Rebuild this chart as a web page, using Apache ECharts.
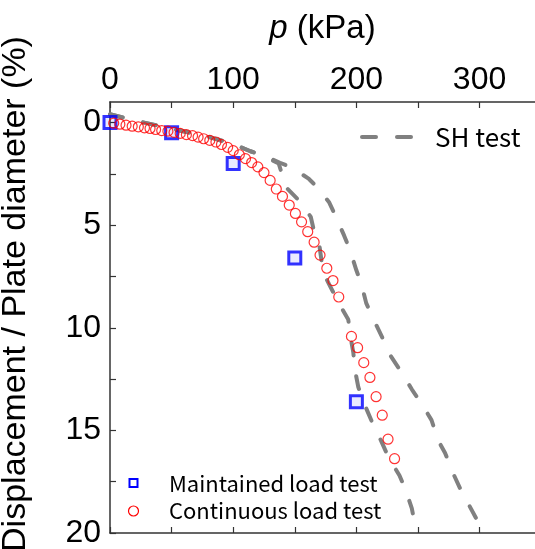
<!DOCTYPE html>
<html>
<head>
<meta charset="utf-8">
<script src="https://cdn.jsdelivr.net/npm/echarts@6/dist/echarts.min.js"></script>
<style>
  html, body { margin: 0; padding: 0; background: #fff; }
  #chart { width: 535px; height: 549px; }
</style>
</head>
<body>
<div id="chart"></div>
<script>
// Pressure p (kPa) and displacement / plate diameter (%) for each test.
const maintainedP = [0, 50, 100, 150, 200];
const maintainedD = [0, 0.5, 2.0, 6.6, 13.6];

const continuousP = [3, 8, 13, 18, 23, 28, 32.5, 37, 42, 47, 52, 57, 62, 67, 71.5, 76, 81, 86, 90.5, 95.5,
  100, 105, 110, 115, 120, 125, 130, 135, 140, 145.5, 150.5, 155.5, 160.5, 165.7, 170.5, 176, 181, 185.7,
  196, 201, 206, 211, 216, 221, 225.7, 231];
const continuousD = [0.03, 0.08, 0.13, 0.18, 0.21, 0.26, 0.29, 0.34, 0.39, 0.42, 0.48, 0.53, 0.59, 0.64, 0.71, 0.79, 0.87, 0.95, 1.07, 1.21,
  1.37, 1.57, 1.76, 1.95, 2.16, 2.44, 2.82, 3.24, 3.6, 4.02, 4.43, 4.84, 5.32, 5.83, 6.46, 7.1, 7.7, 8.5,
  10.42, 10.97, 11.7, 12.42, 13.36, 14.26, 15.43, 16.38];

// SH test, lower branch
const shLowerP = [0, 20, 50, 80, 100, 114, 124, 137, 138.5, 142, 154, 163, 166.4, 170, 173, 178, 186.7, 193.4,
  196, 197.5, 199, 201.6, 207.8, 212.4, 220, 226, 235, 240, 245, 247.6];
const shLowerD = [-0.4, -0.1, 0.3, 0.7, 1.05, 1.4, 1.6, 2.0, 2.3, 3.1, 3.84, 4.6, 5.5, 6.0, 7.3, 7.9, 8.9, 9.6,
  10.7, 11.2, 12.1, 12.9, 13.9, 14.55, 15.5, 16.3, 17.2, 17.9, 18.8, 19.6];

// SH test, upper branch
const shUpperP = [0, 20, 50, 80, 100, 114, 124, 138, 148, 161.5, 169, 178, 183.4, 190, 195, 200, 204, 208, 214,
  222, 227, 237, 245, 254, 261, 266.5, 272, 278.6, 284, 292, 300];
const shUpperD = [-0.4, -0.1, 0.3, 0.7, 1.05, 1.4, 1.6, 1.96, 2.2, 2.75, 3.2, 3.9, 4.6, 5.5, 6.25, 7.2, 7.85, 8.8, 9.6,
  10.6, 11.3, 12.2, 13, 13.8, 14.5, 15.5, 16.1, 17.1, 17.8, 18.7, 19.6];

const xLabelValues = [0, 100, 200, 300];
const xTickValues = [0, 50, 100, 150, 200, 250, 300];
const yLabelValues = [0, 5, 10, 15, 20];
const yTickValues = [0, 2.5, 5, 7.5, 10, 12.5, 15, 17.5, 20];

const pairs = (xs, ys) => xs.map((x, i) => [x, ys[i]]);

const FONT = '"Liberation Sans", Arial, sans-serif';
const LEGEND_FONT = '"Noto Sans CJK JP", "Liberation Sans", sans-serif';
const AXIS_COLOR = '#333';
const GRAY = '#808080';

const axisLineStyle = { color: AXIS_COLOR, width: 1.5 };

const chart = echarts.init(document.getElementById('chart'), null, { renderer: 'canvas' });

chart.setOption({
  animation: false,
  backgroundColor: '#fff',
  grid: { left: 110, top: 102, right: 0, bottom: 13, containLabel: false },
  xAxis: [
    {
      type: 'value', position: 'top', min: 0, max: 345,
      name: '{i|p} (kPa)', nameLocation: 'middle', nameGap: 57,
      nameTextStyle: {
        fontSize: 33, fontFamily: FONT, color: '#000',
        rich: { i: { fontStyle: 'italic', fontSize: 33, fontFamily: FONT, color: '#000' } }
      },
      axisLine: { show: true, onZero: false, lineStyle: axisLineStyle },
      axisTick: { show: true, inside: true, length: 6, customValues: xTickValues, lineStyle: { color: AXIS_COLOR, width: 1.2 } },
      axisLabel: { customValues: xLabelValues, fontSize: 32, fontFamily: FONT, color: '#000', margin: 6 },
      splitLine: { show: false }
    },
    {
      type: 'value', position: 'bottom', min: 0, max: 345,
      axisLine: { show: true, onZero: false, lineStyle: axisLineStyle },
      axisTick: { show: true, inside: true, length: 6, customValues: xTickValues, lineStyle: { color: AXIS_COLOR, width: 1.2 } },
      axisLabel: { show: false },
      splitLine: { show: false }
    }
  ],
  yAxis: {
    type: 'value', inverse: true, min: -1, max: 20,
    axisLine: { show: true, onZero: false, lineStyle: axisLineStyle },
    axisTick: { show: true, inside: true, length: 6, customValues: yTickValues, lineStyle: { color: AXIS_COLOR, width: 1.2 } },
    axisLabel: { customValues: yLabelValues, fontSize: 32, fontFamily: FONT, color: '#000', margin: 9 },
    splitLine: { show: false }
  },
  graphic: [
    {
      type: 'text', x: 16, y: 294, rotation: Math.PI / 2,
      style: {
        text: 'Displacement / Plate diameter (%)', font: '34px ' + FONT, fill: '#000',
        align: 'center', verticalAlign: 'middle'
      }
    },
    { type: 'line', shape: { x1: 362, y1: 137, x2: 376, y2: 137 }, style: { stroke: GRAY, lineWidth: 4, lineCap: 'round' } },
    { type: 'line', shape: { x1: 397, y1: 137, x2: 411, y2: 137 }, style: { stroke: GRAY, lineWidth: 4, lineCap: 'round' } },
    { type: 'text', x: 435, y: 137, style: { text: 'SH test', font: '26px ' + LEGEND_FONT, fill: '#000', verticalAlign: 'middle' } },
    { type: 'rect', shape: { x: 129.5, y: 479, width: 8, height: 8 }, style: { stroke: '#0000ff', lineWidth: 2, fill: '#fff' } },
    { type: 'text', x: 169, y: 483.5, style: { text: 'Maintained load test', font: '22px ' + LEGEND_FONT, fill: '#000', verticalAlign: 'middle' } },
    { type: 'circle', shape: { cx: 133.5, cy: 511, r: 5 }, style: { stroke: '#ff0000', lineWidth: 1.2, fill: 'none' } },
    { type: 'text', x: 169, y: 511, style: { text: 'Continuous load test', font: '22px ' + LEGEND_FONT, fill: '#000', verticalAlign: 'middle' } }
  ],
  series: [
    {
      name: 'SH test', type: 'line', data: pairs(shLowerP, shLowerD),
      showSymbol: false, symbol: 'none', smooth: false,
      lineStyle: { color: GRAY, width: 4, type: [13, 21], cap: 'round' }, z: 2
    },
    {
      name: 'SH test upper', type: 'line', data: pairs(shUpperP, shUpperD),
      showSymbol: false, symbol: 'none', smooth: false,
      lineStyle: { color: GRAY, width: 4, type: [13, 21], cap: 'round' }, z: 2
    },
    {
      name: 'Maintained load test', type: 'scatter', data: pairs(maintainedP, maintainedD),
      symbol: 'rect', symbolSize: 12,
      itemStyle: { color: 'rgba(0,0,255,0.1)', borderColor: '#0000ff', borderWidth: 3 }, z: 3
    },
    {
      name: 'Continuous load test', type: 'scatter', data: pairs(continuousP, continuousD),
      symbol: 'circle', symbolSize: 10,
      itemStyle: { color: 'rgba(0,0,0,0)', borderColor: '#ff0000', borderWidth: 1.2 }, z: 4
    }
  ]
});
</script>
</body>
</html>
